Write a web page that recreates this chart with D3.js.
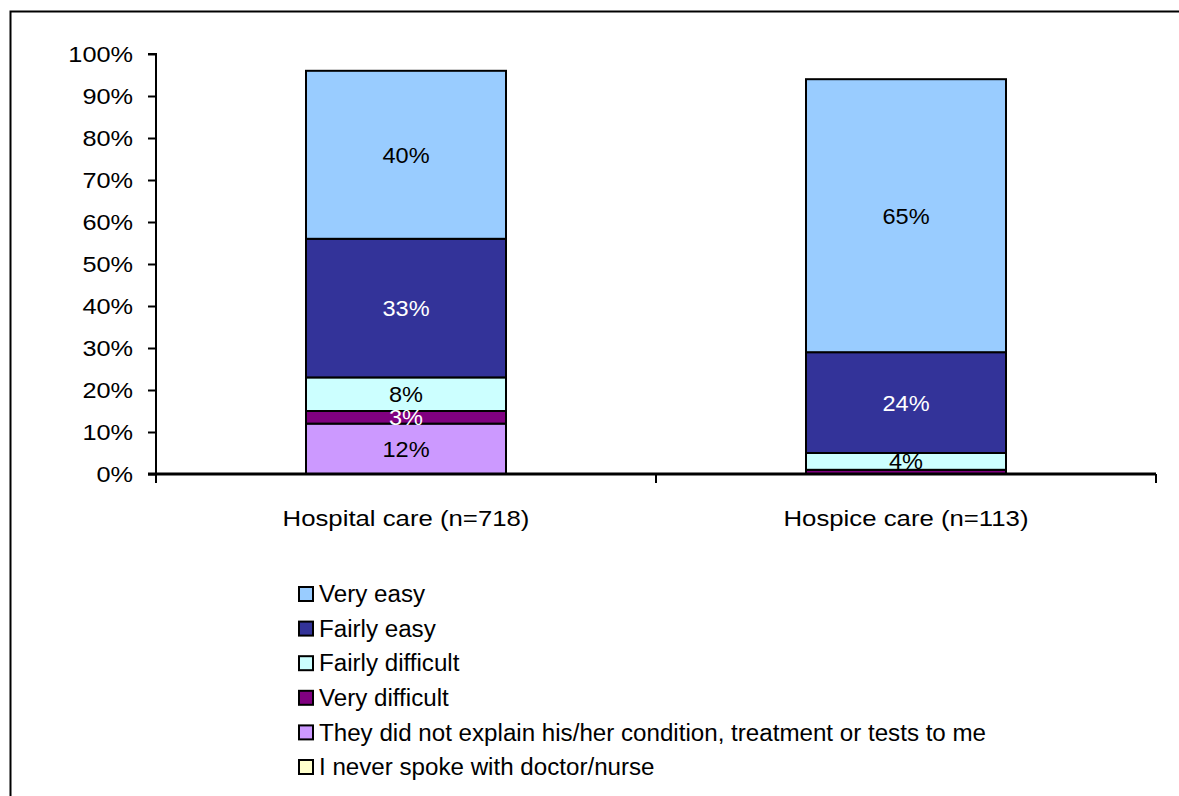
<!DOCTYPE html>
<html>
<head>
<meta charset="utf-8">
<script src="https://cdn.jsdelivr.net/npm/d3@7"></script>
<style>
  html, body { margin: 0; padding: 0; background: #fff; }
  svg { display: block; font-family: "Liberation Sans", Arial, sans-serif; }
</style>
</head>
<body>
<svg id="chart" width="1179" height="796"></svg>
<script>
// Care settings along the x axis
const categories = ["Hospital care (n=718)", "Hospice care (n=113)"];

// Response series, stacked bottom to top
const seriesNames = [
  "They did not explain his/her condition, treatment or tests to me",
  "Very difficult",
  "Fairly difficult",
  "Fairly easy",
  "Very easy",
  "I never spoke with doctor/nurse"
];
// Percentages per category, same order as categories
const notExplained = [12, 0];
const veryDifficult = [3, 1];
const fairlyDifficult = [8, 4];
const fairlyEasy = [33, 24];
const veryEasy = [40, 65];
const neverSpoke = [0, 0];

// Legend order (top to bottom)
const legendOrder = [
  "Very easy",
  "Fairly easy",
  "Fairly difficult",
  "Very difficult",
  "They did not explain his/her condition, treatment or tests to me",
  "I never spoke with doctor/nurse"
];

const yTicks = [0, 10, 20, 30, 40, 50, 60, 70, 80, 90, 100];

const fills = {
  "Very easy": "#99CCFF",
  "Fairly easy": "#333399",
  "Fairly difficult": "#CCFFFF",
  "Very difficult": "#800080",
  "They did not explain his/her condition, treatment or tests to me": "#CC99FF",
  "I never spoke with doctor/nurse": "#FFFFCC"
};
const labelColours = {
  "Very easy": "#000",
  "Fairly easy": "#fff",
  "Fairly difficult": "#000",
  "Very difficult": "#fff",
  "They did not explain his/her condition, treatment or tests to me": "#000",
  "I never spoke with doctor/nurse": "#000"
};

const valuesBySeries = {
  "They did not explain his/her condition, treatment or tests to me": notExplained,
  "Very difficult": veryDifficult,
  "Fairly difficult": fairlyDifficult,
  "Fairly easy": fairlyEasy,
  "Very easy": veryEasy,
  "I never spoke with doctor/nurse": neverSpoke
};

const rows = categories.map((c, i) => {
  const r = { category: c };
  seriesNames.forEach(s => { r[s] = valuesBySeries[s][i]; });
  return r;
});

const layers = d3.stack().keys(seriesNames)(rows);

const svg = d3.select("#chart");

// Text drawn with the slightly wide glyphs of the original renderer
function wideText(parent, x, y, sx, size, str) {
  return parent.append("text")
    .attr("transform", `translate(${x},${y}) scale(${sx},1)`)
    .attr("font-size", size)
    .attr("fill", "#000")
    .text(str);
}

// Outer chart border
svg.append("rect")
  .attr("x", 10.5).attr("y", 11.5)
  .attr("width", 1200).attr("height", 820)
  .attr("fill", "#fff").attr("stroke", "#000").attr("stroke-width", 2);

const plot = { left: 156, right: 1156, top: 54, bottom: 474 };

const x = d3.scaleBand()
  .domain(categories)
  .range([plot.left, plot.right])
  .paddingInner(0.6)
  .paddingOuter(0.3);

const y = d3.scaleLinear().domain([0, 100]).range([plot.bottom, plot.top]);

// Stacked bars
const g = svg.append("g");
layers.forEach(layer => {
  const name = layer.key;
  layer.forEach((d, i) => {
    const v = d[1] - d[0];
    if (v <= 0) return;
    g.append("rect")
      .attr("x", x(categories[i]))
      .attr("y", y(d[1]))
      .attr("width", x.bandwidth())
      .attr("height", y(d[0]) - y(d[1]))
      .attr("fill", fills[name])
      .attr("stroke", "#000")
      .attr("stroke-width", 2);
  });
});

// Data labels
layers.forEach(layer => {
  const name = layer.key;
  layer.forEach((d, i) => {
    const v = d[1] - d[0];
    if (v < 2) return;
    wideText(g, x(categories[i]) + x.bandwidth() / 2, y((d[0] + d[1]) / 2), 1.07, 22, v + "%")
      .attr("dy", "0.36em")
      .attr("text-anchor", "middle")
      .attr("fill", labelColours[name]);
  });
});

// Y axis
const yAxis = d3.axisLeft(y)
  .tickValues(yTicks)
  .tickFormat(d => d + "%")
  .tickSize(8);
const ya = svg.append("g")
  .attr("transform", `translate(${plot.left},0)`)
  .call(yAxis);
ya.select(".domain").attr("stroke", "#000").attr("stroke-width", 2)
  .attr("d", `M-8,${plot.top}H0V${plot.bottom}`);
ya.selectAll(".tick line").attr("stroke", "#000").attr("stroke-width", 2);
ya.selectAll(".tick text")
  .attr("x", -23 / 1.15)
  .attr("transform", "scale(1.15,1)")
  .attr("font-size", 22)
  .attr("font-family", "Liberation Sans, Arial, sans-serif")
  .attr("fill", "#000");

// X axis with tick marks at category boundaries
const xa = svg.append("g").attr("transform", `translate(0,${plot.bottom})`);
xa.append("line")
  .attr("x1", plot.left - 8).attr("x2", plot.right)
  .attr("stroke", "#000").attr("stroke-width", 3);
const boundaries = [plot.left, (plot.left + plot.right) / 2, plot.right];
xa.selectAll("line.tk").data(boundaries).join("line")
  .attr("class", "tk")
  .attr("x1", d => d).attr("x2", d => d)
  .attr("y1", 0).attr("y2", 9)
  .attr("stroke", "#000").attr("stroke-width", 2);
categories.forEach(c => {
  wideText(xa, x(c) + x.bandwidth() / 2, 52, 1.12, 23, c)
    .attr("text-anchor", "middle");
});

// Legend
const legend = svg.append("g").attr("transform", "translate(298,594)");
const rowStep = 34.6;
legendOrder.forEach((name, i) => {
  const row = legend.append("g").attr("transform", `translate(0,${i * rowStep})`);
  row.append("rect")
    .attr("x", 1).attr("y", -7)
    .attr("width", 14).attr("height", 14)
    .attr("fill", fills[name])
    .attr("stroke", "#000").attr("stroke-width", 2);
  wideText(row, 21, 0, 1.05, 23, name)
    .attr("dy", "0.36em");
});
</script>
</body>
</html>
